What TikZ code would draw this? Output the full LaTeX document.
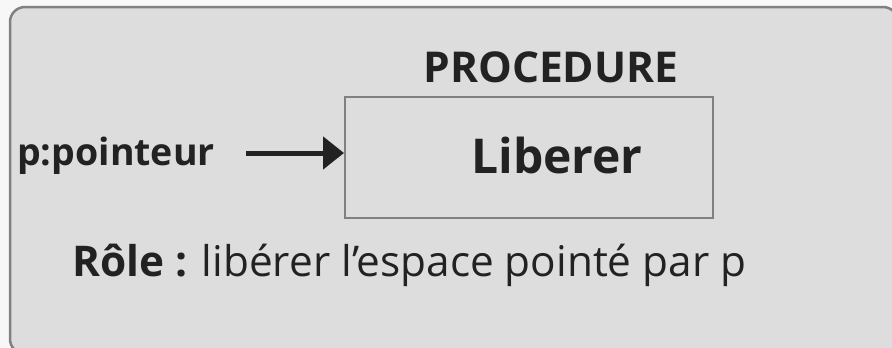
\documentclass[tikz,border=0pt]{standalone}
\usepackage{fontspec}
\setmainfont{Open Sans}
\usetikzlibrary{arrows.meta}

\definecolor{panel}{HTML}{DDDDDD}
\definecolor{edge}{HTML}{808080}
\definecolor{ink}{HTML}{222222}

\tikzset{
    lbl/.style={inner sep=0pt, text=ink, font=\bfseries},
}

\begin{document}
\begin{tikzpicture}[x=1pt,y=-1pt]
    \useasboundingbox[fill=black!3] (0,0) rectangle (892,348);
    \begin{scope}
        \clip (0,0) rectangle (892,348);
        \draw[edge, line width=2.5pt, fill=panel, rounded corners=15pt] (10,7) rectangle (898,354);
    \end{scope}

    \node[draw=edge, line width=2pt, minimum width=368pt, minimum height=121pt, inner sep=0pt]
        (proc) at (529,157.5) {};
    \node[lbl, anchor=base, font=\fontsize{42.5}{50}\selectfont\bfseries] (title) at (551,82) {PROCEDURE};
    \node[lbl, anchor=base, font=\fontsize{48}{56}\selectfont\bfseries] (name) at (557,173) {Liberer};

    \node[lbl, anchor=base west, font=\fontsize{37.5}{44}\selectfont\bfseries] (ptr) at (17,165) {p:pointeur};
    \coordinate (tip) at ([yshift=4.5pt]proc.west);
    \draw[-{Triangle[length=21pt,width=32pt]}, ink, line width=5pt, shorten <=31pt]
        (ptr.east |- tip) -- (tip);

    \node[lbl, anchor=base west, font=\fontsize{42.3}{50}\selectfont] (role) at (72,276)
        {\textbf{Rôle :} libérer l’espace pointé par p};
\end{tikzpicture}
\end{document}
